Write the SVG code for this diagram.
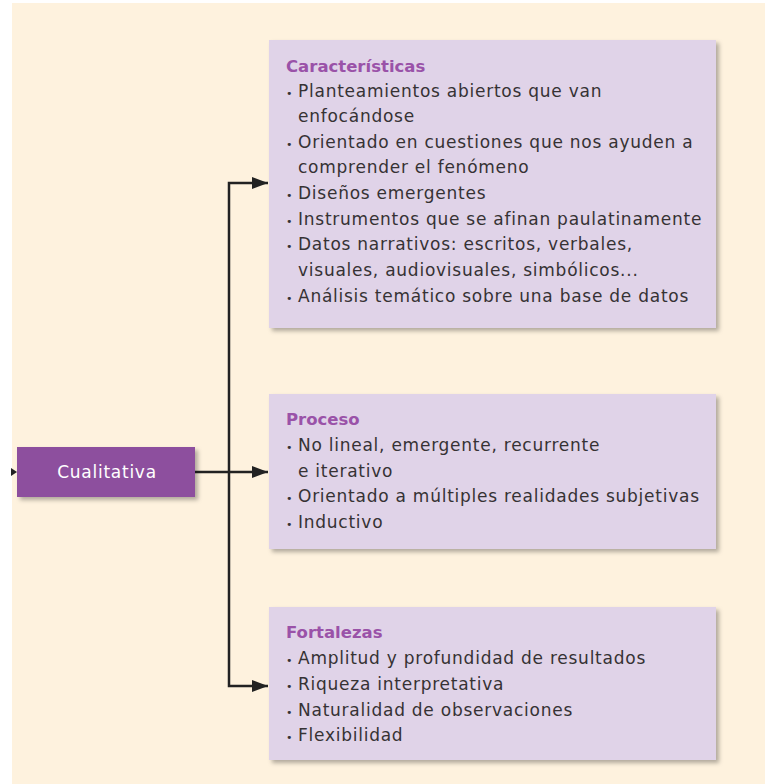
<svg xmlns="http://www.w3.org/2000/svg" width="765" height="784" viewBox="0 0 765 784">
<defs>
<style>
.bg{fill:#FEF2DE}
.box{fill:#E0D3E8;filter:url(#sh)}
.node{fill:#8D4F9E;filter:url(#sh)}
.ttl{font-family:"DejaVu Sans","Open Sans",sans-serif;font-size:16.5px;font-weight:bold;fill:#9A52A8}
.txt{font-family:"DejaVu Sans","Open Sans",sans-serif;font-size:17px;letter-spacing:0.75px;fill:#363234}
.bul{font-size:11px;letter-spacing:0}
.lbl{font-family:"DejaVu Sans","Open Sans",sans-serif;font-size:17px;letter-spacing:0.75px;fill:#FFFFFF;text-anchor:middle}
.con{fill:none;stroke:#222;stroke-width:2.5}
</style>
<filter id="sh" x="-5%" y="-5%" width="115%" height="120%">
<feDropShadow dx="3" dy="3" stdDeviation="2" flood-color="#000" flood-opacity="0.3"/>
</filter>
<marker id="ah" markerUnits="userSpaceOnUse" markerWidth="16" markerHeight="12" refX="16" refY="6" orient="auto">
<path d="M0,0 L16,6 L0,12 z" fill="#222"/>
</marker>
</defs>
<rect x="0" y="0" width="765" height="784" fill="#FFFFFF"/>
<rect class="bg" x="12" y="3" width="753" height="781"/>

<g id="connectors">
<path class="con" d="M229,472 V183 H268" marker-end="url(#ah)"/>
<path class="con" d="M229,472 V686 H268" marker-end="url(#ah)"/>
<path class="con" d="M195,472 H268" marker-end="url(#ah)"/>
<path d="M11,468 L17,472 L11,476 z" fill="#222"/>
</g>

<g id="cualitativa">
<rect class="node" x="17" y="447" width="178" height="50"/>
<text class="lbl" x="107" y="478">Cualitativa</text>
</g>

<g id="caracteristicas">
<rect class="box" x="269" y="40" width="447" height="288"/>
<text class="ttl" x="286" y="72">Características</text>
<text class="txt" x="286" y="97"><tspan class="bul">•</tspan><tspan x="298">Planteamientos abiertos que van</tspan></text>
<text class="txt" x="298" y="122">enfocándose</text>
<text class="txt" x="286" y="148"><tspan class="bul">•</tspan><tspan x="298">Orientado en cuestiones que nos ayuden a</tspan></text>
<text class="txt" x="298" y="173">comprender el fenómeno</text>
<text class="txt" x="286" y="199"><tspan class="bul">•</tspan><tspan x="298">Diseños emergentes</tspan></text>
<text class="txt" x="286" y="225"><tspan class="bul">•</tspan><tspan x="298">Instrumentos que se afinan paulatinamente</tspan></text>
<text class="txt" x="286" y="250"><tspan class="bul">•</tspan><tspan x="298">Datos narrativos: escritos, verbales,</tspan></text>
<text class="txt" x="298" y="276">visuales, audiovisuales, simbólicos...</text>
<text class="txt" x="286" y="302"><tspan class="bul">•</tspan><tspan x="298">Análisis temático sobre una base de datos</tspan></text>
</g>

<g id="proceso">
<rect class="box" x="269" y="394" width="447" height="155"/>
<text class="ttl" x="286" y="425">Proceso</text>
<text class="txt" x="286" y="451"><tspan class="bul">•</tspan><tspan x="298">No lineal, emergente, recurrente</tspan></text>
<text class="txt" x="298" y="477">e iterativo</text>
<text class="txt" x="286" y="502"><tspan class="bul">•</tspan><tspan x="298">Orientado a múltiples realidades subjetivas</tspan></text>
<text class="txt" x="286" y="528"><tspan class="bul">•</tspan><tspan x="298">Inductivo</tspan></text>
</g>

<g id="fortalezas">
<rect class="box" x="269" y="607" width="447" height="153"/>
<text class="ttl" x="286" y="638">Fortalezas</text>
<text class="txt" x="286" y="664"><tspan class="bul">•</tspan><tspan x="298">Amplitud y profundidad de resultados</tspan></text>
<text class="txt" x="286" y="690"><tspan class="bul">•</tspan><tspan x="298">Riqueza interpretativa</tspan></text>
<text class="txt" x="286" y="716"><tspan class="bul">•</tspan><tspan x="298">Naturalidad de observaciones</tspan></text>
<text class="txt" x="286" y="741"><tspan class="bul">•</tspan><tspan x="298">Flexibilidad</tspan></text>
</g>
</svg>
